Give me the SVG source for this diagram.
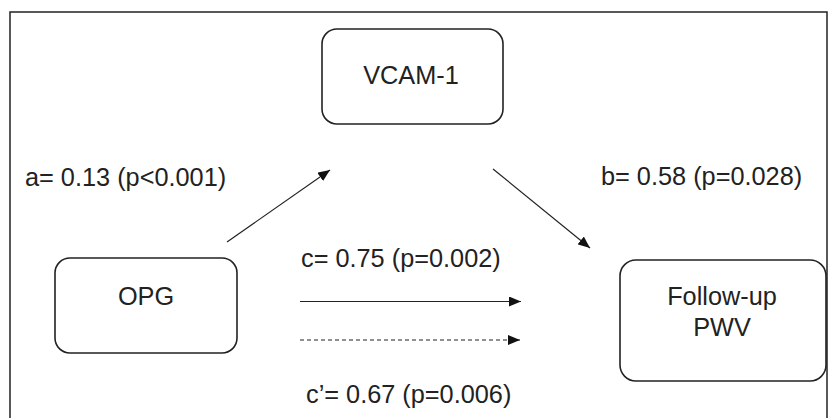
<svg xmlns="http://www.w3.org/2000/svg" width="829" height="418" viewBox="0 0 829 418">
<defs>
<style>
.box{fill:#fff;stroke:#222;stroke-width:1.6}
.t{font-family:"Liberation Sans",Arial,sans-serif;font-size:25.3px;fill:#222}
.m{text-anchor:middle}
.e{stroke:#222;stroke-width:1.2;fill:none}
</style>
<marker id="ah" viewBox="0 0 12 10" refX="12" refY="5" markerWidth="12" markerHeight="10" markerUnits="userSpaceOnUse" orient="auto">
<path d="M0,0 L12,5 L0,10 z" fill="#111"/>
</marker>
</defs>
<rect x="0" y="0" width="829" height="418" fill="#fff"/>
<rect x="10" y="12" width="817" height="420" fill="none" stroke="#222" stroke-width="1.5"/>
<g id="vcam">
<rect class="box" x="322" y="29" width="181" height="95" rx="15"/>
<text class="t m" x="411" y="84">VCAM-1</text>
</g>
<g id="opg">
<rect class="box" x="55" y="258" width="182" height="95" rx="15"/>
<text class="t m" x="146" y="305">OPG</text>
</g>
<g id="pwv">
<rect class="box" x="620" y="260" width="206" height="121" rx="16"/>
<text class="t m" x="722" y="305">Follow-up</text>
<text class="t m" x="722" y="336">PWV</text>
</g>
<g id="connectors">
<line class="e" x1="227" y1="242" x2="330" y2="170" marker-end="url(#ah)"/>
<line class="e" x1="493" y1="169" x2="590" y2="248" marker-end="url(#ah)"/>
<line class="e" x1="300" y1="301.5" x2="521" y2="301.5" marker-end="url(#ah)"/>
<line class="e" x1="300" y1="340" x2="520" y2="340" stroke-dasharray="4,3" marker-end="url(#ah)"/>
</g>
<g id="labels">
<text class="t" x="25" y="186">a= 0.13 (p&lt;0.001)</text>
<text class="t" x="601" y="185">b= 0.58 (p=0.028)</text>
<text class="t" x="301" y="267">c= 0.75 (p=0.002)</text>
<text class="t" x="306" y="403">c’= 0.67 (p=0.006)</text>
</g>
</svg>
